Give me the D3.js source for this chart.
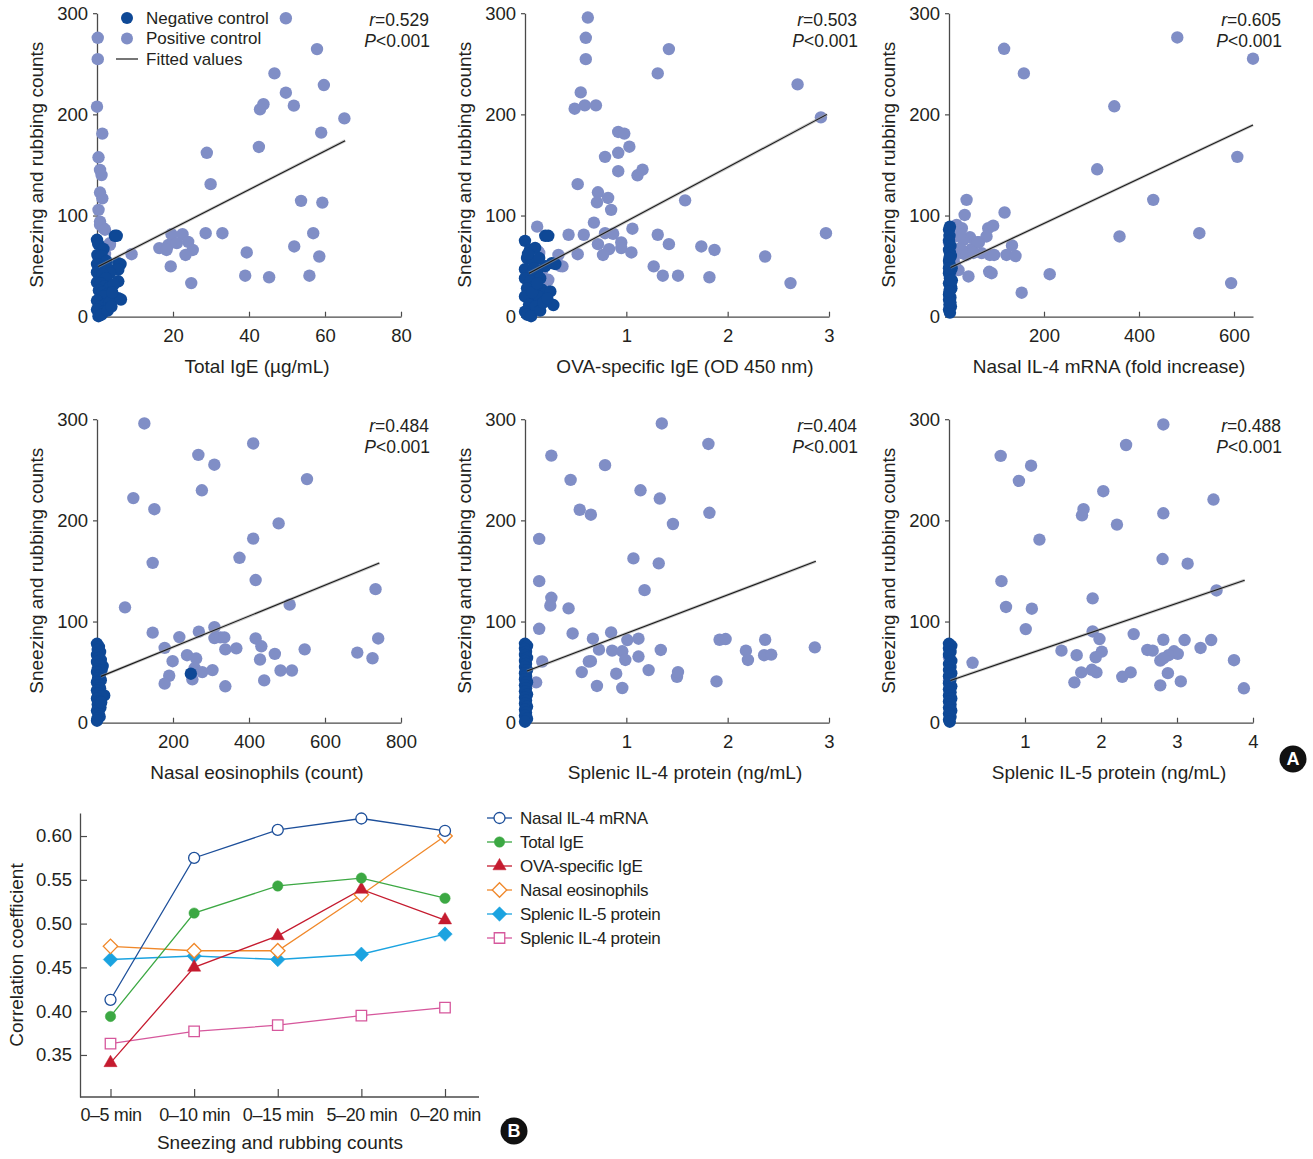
<!DOCTYPE html>
<html><head><meta charset="utf-8">
<script src="https://cdn.jsdelivr.net/npm/d3@7"></script>
<style>
body{margin:0;background:#fff}
svg{display:block}
text{font-family:"Liberation Sans",Arial,Helvetica,sans-serif;fill:#231f20}
</style></head>
<body><svg id="c" width="1313" height="1159"></svg>
<script>
// ---------------- DATA ----------------
const countTicks = [0, 100, 200, 300];

const totalIgE_pos = [[49.7,295],[0.2,275.7],[0.2,254.6],[0,207.6],[1.4,181],[0.4,157.6],[0.8,145],[1.2,140],[0.8,122.7],[1.4,117],[0.4,105.6],[0.8,94],[1.7,87.5],[3.4,71],[9.1,61.8],[57.9,264.5],[46.7,240.5],[59.7,229],[49.7,221.4],[43.8,210],[42.9,205],[51.8,208.6],[65.1,196],[59,182],[42.6,167.8],[28.9,162],[29.9,131],[53.7,114.5],[59.3,112.8],[56.9,82.5],[28.6,82.5],[33,82.5],[19.6,81.6],[22.5,81.6],[24,74],[16.4,67.8],[18.8,71],[21,72.7],[18.3,66],[25.2,66],[23.3,61],[39.4,63.5],[51.9,69.4],[58.5,59.5],[19.4,49.7],[39,40.5],[45.3,39],[55.9,40.5],[24.8,33.2],[0.8,91],[2.1,86],[3.4,72.7],[2.1,62],[2.1,49.6],[2.6,40],[0.5,58]];
const totalIgE_neg = [[0,76],[0.3,72],[4.7,80],[5.2,80],[1.7,67],[0.1,61],[0.5,57],[1.2,60],[2.5,55],[5.6,53],[6.2,52],[0,52],[1.0,48],[2.0,50],[3.0,47],[5.6,46.5],[3.4,43],[0,44],[0.6,40],[1.5,42],[2.3,38],[5.6,35],[0,34],[1.0,33],[2.0,30],[3.4,29],[4.4,32],[0.5,26],[1.5,24],[2.6,22],[1.7,20],[5.6,18.4],[6.3,17],[0,16],[0.8,10],[2.2,12],[3.2,14],[0,7],[1.8,5],[0.4,0.5],[1.2,2],[2.8,6],[4.0,24],[3.8,10]];
const totalIgE_fit = [[0.35,49.6],[65.3,174]];

const ovaIgE_pos = [[0.62,295.7],[0.6,275.7],[0.6,254.6],[1.42,264.5],[1.31,240.5],[2.69,229.6],[2.92,197],[0.55,221.7],[0.49,205.6],[0.59,208.9],[0.7,208.9],[0.92,182.6],[0.98,181],[1.03,168],[0.92,162],[0.79,158],[0.92,143.8],[1.11,139.8],[1.16,145.4],[0.52,131],[0.72,123],[0.71,113],[0.82,117.4],[0.85,105.6],[1.58,115],[0.68,93],[1.06,87],[0.12,89],[0.43,81],[0.58,81],[0.79,82.5],[0.87,82],[1.31,81],[2.97,82.5],[0.72,71.7],[0.95,73.4],[0.95,67.8],[0.83,66.8],[0.77,61],[1.05,63.5],[0.52,61.8],[1.42,71.7],[1.74,69.4],[1.87,66],[2.37,59.5],[1.27,49.7],[1.36,40.5],[1.51,40.5],[1.82,39],[2.62,33.2],[0.33,61],[0.37,49.7],[0.23,36.5],[0.14,63],[0.17,45.7],[0.13,64.5],[0.11,51],[0.35,50]];
const ovaIgE_neg = [[0,75],[0.2,80],[0.23,80],[0.05,66],[0.1,68],[0.265,53],[0.3,52],[0.2,50],[0.02,58],[0.08,55],[0,47],[0.12,45],[0.06,42],[0,38],[0.05,35],[0.15,38],[0.1,30],[0.17,26.6],[0.2,23],[0.25,25],[0.02,28],[0.08,17],[0.13,20],[0,20],[0.04,12],[0.28,11.5],[0.1,10],[0,5],[0.02,2],[0.06,0.5],[0.15,6],[0.18,14],[0.22,18],[0.07,24],[0.12,33],[0.03,62],[0.14,58],[0.09,48]];
const ovaIgE_fit = [[0.04,43],[2.98,200]];

const il4mRNA_pos = [[116,264.8],[157.6,240.5],[480.6,276],[640,255],[348,208],[312,145.7],[607,158],[430,115.5],[359,79.3],[527,82.5],[594,33.2],[212,42],[153,23.7],[89.6,43],[117,103],[37,115.5],[33,100.6],[16,90.8],[27,87.5],[82.6,87.5],[93,90],[79,79.3],[44,78.6],[63,73.7],[132.6,70.4],[48,67],[68.8,62.8],[86,61],[95,61],[121,61],[140,60],[27,62.8],[30.5,76],[13,79.3],[9.7,56],[20,46],[41,39.8],[23.6,67.8],[0,73],[23,81],[59.5,73.7],[45.5,65.5],[12.6,51],[84.6,44.4],[10.5,61],[37,61],[51,63]];
const il4mRNA_neg = [[0,86],[2,89],[1,80],[0,75],[3,70],[0,66],[2,63],[4,60],[0,55],[5.6,48],[1,52],[0,43],[3,45],[2,38],[0,33],[4,30],[2,26.6],[0,22],[3,19],[0,16.8],[1,12],[4,10],[0,7],[2,4],[5,28],[1,58],[6,36],[0,48],[3,14],[1,25]];
const il4mRNA_fit = [[3.5,48.7],[640,189.5]];

const eos_pos = [[124.6,295.8],[411,276],[266.7,264.7],[308.8,255],[276,229.7],[552.6,240.8],[95.6,222],[151,211],[478,197],[411,182],[375,163],[146.5,158],[417.5,141],[733,132],[73.7,114],[507,116.7],[146.5,89],[268,90],[309,94.4],[216.7,84.6],[309,83.7],[324.6,84.3],[335,84.3],[417.5,83.3],[740,83.3],[178,74],[337.7,72.5],[366.7,73.5],[432.5,75.5],[546.5,72.5],[685,69.3],[237,66.7],[261,63.4],[468,68],[429,62.4],[725,63.7],[199,60.8],[257,54],[277,50],[304,52],[483,51.6],[513,51.6],[190,46.4],[178,38.6],[251,42.8],[440,41.8],[337.7,36]];
const eos_neg = [[0,78],[5,75],[2,72],[8,70],[0,67],[4,64],[10,62],[0,60],[15,56],[6,57],[2,53],[12,52],[0,50],[7,47],[3,44],[10,42],[0,40],[5,37],[8,34],[0,32],[19,27],[3,29],[12,26],[0,24],[6,21],[2,18],[9,15],[0,12],[4,9],[7,6],[1,4],[0,2],[11,20],[247,48.4]];
const eos_fit = [[10.5,45.8],[743,157.8]];

const il4prot_pos = [[1.35,295.8],[1.81,275.5],[0.26,264],[0.79,254.6],[0.45,240],[1.14,229.7],[1.33,221.6],[0.54,210.5],[0.65,205.6],[1.82,207.5],[1.46,196.4],[0.14,181.7],[1.07,162.4],[1.32,157.5],[0.14,139.9],[1.18,131],[0.26,123.5],[0.25,115.7],[0.43,113],[0.14,92.8],[0.47,88.2],[0.85,89.2],[0.67,83],[1.01,81.7],[1.12,83],[1.92,82],[1.98,82.7],[2.37,82],[0.73,72.2],[0.86,71.2],[0.96,70.6],[1.34,71.9],[2.18,71.2],[0.65,60.8],[0.99,62],[1.12,65.4],[0.17,60.5],[2.2,62],[2.36,66.7],[2.43,67.3],[2.86,74.5],[1.22,52],[0.56,50],[0.9,48.4],[1.5,45.4],[1.51,50],[0.11,39.9],[1.89,40.8],[0.71,36.3],[0.96,34.3],[0.63,60.5]];
const il4prot_neg = [[0,78],[0.02,76],[0,73],[0.01,70],[0,67],[0.02,64],[0,61],[0.01,58],[0,55],[0.02,52],[0,49],[0.01,46],[0,43],[0.02,40],[0,37],[0.01,34],[0,31],[0.02,28],[0,25],[0.01,22],[0,19],[0.02,16],[0,13],[0.01,10],[0,7],[0.02,4],[0,1]];
const il4prot_fit = [[0.02,51],[2.87,159.5]];

const il5prot_pos = [[2.82,294.8],[2.33,274.5],[0.68,263.7],[1.08,254],[0.92,239],[2.03,228.8],[3.48,220.6],[1.77,211],[1.75,205],[2.82,207],[2.21,195.8],[1.19,181],[2.81,161.8],[3.14,157.2],[0.69,139.9],[3.52,130.7],[1.89,122.9],[0.75,114.4],[1.09,112.7],[1.01,92.5],[2.43,87.6],[1.89,90.2],[1.98,82.7],[2.82,82],[3.1,81.7],[3.45,81.7],[3.31,73.9],[1.48,71.2],[2.61,71.9],[2.68,71.2],[2.96,70.6],[3.01,68],[2.01,70.3],[1.93,64.7],[1.68,66.7],[2.89,66.7],[2.78,61.4],[2.82,63.7],[3.75,61.8],[0.31,59.2],[1.88,52.3],[1.94,49.7],[1.74,49.7],[2.39,49.7],[2.28,45.4],[2.88,49],[1.65,39.9],[3.05,40.8],[2.78,36.9],[3.88,34],[0,64.7],[0,41.8]];
const il5prot_neg = [[0,78],[0.03,76],[0,73],[0.02,70],[0,67],[0.03,61],[0,58],[0.02,55],[0,52],[0.03,49],[0,46],[0.02,43],[0,39],[0.03,36],[0,33],[0.02,30],[0,27],[0.03,24],[0,21],[0.02,18],[0,15],[0.03,12],[0,9],[0.02,6],[0,3],[0.01,1]];
const il5prot_fit = [[0.02,41.8],[3.89,140.8]];

const rValues = ["0.529","0.503","0.605","0.484","0.404","0.488"];

// Panel B
const periods = ["0\u20135 min","0\u201310 min","0\u201315 min","5\u201320 min","0\u201320 min"];
const seriesNames = ["Nasal IL-4 mRNA","Total IgE","OVA-specific IgE","Nasal eosinophils","Splenic IL-5 protein","Splenic IL-4 protein"];
const nasalIL4_r  = [0.413,0.575,0.607,0.620,0.606];
const totalIgE_r  = [0.394,0.512,0.543,0.552,0.529];
const ovaIgE_r    = [0.341,0.450,0.486,0.539,0.504];
const nasalEos_r  = [0.474,0.469,0.469,0.533,0.600];
const il5_r       = [0.459,0.463,0.459,0.465,0.488];
const il4_r       = [0.363,0.377,0.384,0.395,0.404];
const corrTicks = [0.35,0.40,0.45,0.50,0.55,0.60];

// ---------------- DRAW ----------------
const svg = d3.select("#c");
const NEG = "#0e4896", POS = "#808ec6", AX = "#4a4a4a";

function scatter(p){
  const x = d3.scaleLinear().domain(p.xDomain).range([p.left, p.left + 304]);
  const y = d3.scaleLinear().domain([0,300]).range([p.bottom, p.bottom - 303.5]);
  const g = svg.append("g");
  // axes
  const xa = g.append("g").attr("transform",`translate(0,${p.bottom})`)
    .call(d3.axisBottom(x).tickValues(p.xTicks).tickFormat(d3.format("d")).tickSizeInner(-5).tickSizeOuter(0).tickPadding(12));
  const ya = g.append("g").attr("transform",`translate(${p.left},0)`)
    .call(d3.axisLeft(y).tickValues(countTicks).tickFormat(d3.format("d")).tickSizeInner(4).tickSizeOuter(0).tickPadding(5));
  [xa,ya].forEach(a=>{
    a.select(".domain").attr("stroke",AX).attr("stroke-width",1.3);
    a.selectAll(".tick line").attr("stroke",AX).attr("stroke-width",1.2);
    a.selectAll(".tick text").attr("font-size",18.5).attr("fill","#231f20").attr("font-family",null);
  });
  // points
  const pts = g.append("g");
  pts.selectAll("circle.pos").data(p.pos).join("circle").attr("class","pos")
    .attr("cx",d=>x(d[0])).attr("cy",d=>y(d[1])).attr("r",6.2).attr("fill",POS);
  pts.selectAll("circle.neg").data(p.neg).join("circle").attr("class","neg")
    .attr("cx",d=>x(d[0])).attr("cy",d=>y(d[1])).attr("r",6.2).attr("fill",NEG);
  // fit line
  const line = d3.line().x(d=>x(d[0])).y(d=>y(d[1]));
  g.append("path").attr("d",line(p.fit)).attr("stroke","#9a9a9a").attr("stroke-opacity",0.55).attr("stroke-width",3).attr("fill","none");
  g.append("path").attr("d",line(p.fit)).attr("stroke","#1a1a1a").attr("stroke-width",1.1).attr("fill","none");
  // titles
  g.append("text").attr("x",p.left+160).attr("y",p.bottom+56).attr("text-anchor","middle").attr("font-size",19).text(p.xTitle);
  g.append("text").attr("transform",`translate(${p.left-61},${p.bottom-152}) rotate(-90)`).attr("dy","0.35em")
    .attr("text-anchor","middle").attr("font-size",19).text("Sneezing and rubbing counts");
  // r / P
  const rt = g.append("text").attr("x",p.left+332).attr("y",p.bottom-291).attr("text-anchor","end").attr("font-size",17.5);
  rt.append("tspan").attr("font-style","italic").text("r");
  rt.append("tspan").text("=" + p.r);
  const pt = g.append("text").attr("x",p.left+333).attr("y",p.bottom-270).attr("text-anchor","end").attr("font-size",17.5);
  pt.append("tspan").attr("font-style","italic").text("P");
  pt.append("tspan").text("<0.001");
  return {g,x,y};
}

const rowTop = 316.7, rowBot = 722.7;
const colL = [97, 525, 949];

const p1 = scatter({left:colL[0],bottom:rowTop,xDomain:[0,80],xTicks:[20,40,60,80],pos:totalIgE_pos,neg:totalIgE_neg,fit:totalIgE_fit,xTitle:"Total IgE (\u00b5g/mL)",r:rValues[0]});
scatter({left:colL[1],bottom:rowTop,xDomain:[0,3],xTicks:[1,2,3],pos:ovaIgE_pos,neg:ovaIgE_neg,fit:ovaIgE_fit,xTitle:"OVA-specific IgE (OD 450 nm)",r:rValues[1]});
scatter({left:colL[2],bottom:rowTop,xDomain:[0,640],xTicks:[200,400,600],pos:il4mRNA_pos,neg:il4mRNA_neg,fit:il4mRNA_fit,xTitle:"Nasal IL-4 mRNA (fold increase)",r:rValues[2]});
scatter({left:colL[0],bottom:rowBot,xDomain:[0,800],xTicks:[200,400,600,800],pos:eos_pos,neg:eos_neg,fit:eos_fit,xTitle:"Nasal eosinophils (count)",r:rValues[3]});
scatter({left:colL[1],bottom:rowBot,xDomain:[0,3],xTicks:[1,2,3],pos:il4prot_pos,neg:il4prot_neg,fit:il4prot_fit,xTitle:"Splenic IL-4 protein (ng/mL)",r:rValues[4]});
scatter({left:colL[2],bottom:rowBot,xDomain:[0,4],xTicks:[1,2,3,4],pos:il5prot_pos,neg:il5prot_neg,fit:il5prot_fit,xTitle:"Splenic IL-5 protein (ng/mL)",r:rValues[5]});

// legend in panel 1
const lg = svg.append("g");
const legItems = [["Negative control",NEG,"dot"],["Positive control",POS,"dot"],["Fitted values","#1a1a1a","line"]];
legItems.forEach((it,i)=>{
  const yy = 18 + i*20.5;
  if(it[2]==="dot") lg.append("circle").attr("cx",127).attr("cy",yy).attr("r",6).attr("fill",it[1]);
  else lg.append("line").attr("x1",116).attr("x2",138).attr("y1",yy).attr("y2",yy).attr("stroke",it[1]).attr("stroke-width",1.2);
  lg.append("text").attr("x",146).attr("y",yy).attr("dy","0.35em").attr("font-size",17).text(it[0]);
});

// badges
function badge(cx,cy,t){
  svg.append("circle").attr("cx",cx).attr("cy",cy).attr("r",13.5).attr("fill","#111");
  svg.append("text").attr("x",cx).attr("y",cy).attr("dy","0.36em").attr("text-anchor","middle")
    .attr("font-size",18).attr("font-weight","bold").style("fill","#fff").text(t);
}
badge(1293,759,"A");
badge(514,1131,"B");

// ---------------- Panel B ----------------
const bx = d3.scalePoint().domain(periods).range([110.5,445]);
const by = d3.scaleLinear().domain([0.302,0.6263]).range([1097,813]);
const gb = svg.append("g");
gb.append("line").attr("x1",80).attr("x2",479).attr("y1",1097).attr("y2",1097).attr("stroke",AX).attr("stroke-width",1.3);
const bxa = gb.append("g").attr("transform","translate(0,1097)")
  .call(d3.axisBottom(bx).tickSizeInner(-8).tickSizeOuter(0).tickPadding(11));
const bya = gb.append("g").attr("transform","translate(80,0)")
  .call(d3.axisLeft(by).tickValues(corrTicks).tickFormat(d3.format(".2f")).tickSizeInner(-7).tickSizeOuter(0).tickPadding(8));
bxa.select(".domain").remove();
[bxa,bya].forEach(a=>{
  a.select(".domain").attr("stroke",AX).attr("stroke-width",1.3);
  a.selectAll(".tick line").attr("stroke",AX).attr("stroke-width",1.2);
  a.selectAll(".tick text").attr("font-size",18.5).attr("fill","#231f20").attr("font-family",null);
});
bxa.selectAll(".tick text").attr("font-size",18).attr("letter-spacing",-0.4);
gb.append("text").attr("x",280).attr("y",1149).attr("text-anchor","middle").attr("font-size",19).text("Sneezing and rubbing counts");
gb.append("text").attr("transform","translate(16,955) rotate(-90)").attr("dy","0.35em").attr("text-anchor","middle").attr("font-size",19).text("Correlation coefficient");

const seriesDefs = [
  {name:seriesNames[5], vals:il4_r,       color:"#d6579c", sym:d3.symbolSquare,   size:110, open:true,  rot:0},
  {name:seriesNames[4], vals:il5_r,       color:"#1ba3e0", sym:d3.symbolSquare,   size:105, open:false, rot:45},
  {name:seriesNames[3], vals:nasalEos_r,  color:"#f0882a", sym:d3.symbolSquare,   size:105, open:true,  rot:45},
  {name:seriesNames[2], vals:ovaIgE_r,    color:"#c51b2f", sym:d3.symbolTriangle, size:75,  open:false, rot:0},
  {name:seriesNames[1], vals:totalIgE_r,  color:"#3ca843", sym:d3.symbolCircle,   size:85,  open:false, rot:0},
  {name:seriesNames[0], vals:nasalIL4_r,  color:"#1d4f9a", sym:d3.symbolCircle,   size:95,  open:true,  rot:0}
];
const bline = d3.line().x((d,i)=>bx(periods[i])).y(d=>by(d));
seriesDefs.forEach(s=>{
  gb.append("path").attr("d",bline(s.vals)).attr("fill","none").attr("stroke",s.color).attr("stroke-width",1.3);
});
function marker(g,s,cx,cy){
  g.append("path").attr("d",d3.symbol().type(s.sym).size(s.size)())
    .attr("transform",`translate(${cx},${cy}) rotate(${s.rot})`)
    .attr("fill",s.open?"#fff":s.color).attr("stroke",s.color).attr("stroke-width",s.open?1.3:0.5);
}
seriesDefs.forEach(s=>{
  s.vals.forEach((v,i)=>marker(gb,s,bx(periods[i]),by(v)));
});
// legend B
const legOrder = [5,4,3,2,1,0];
legOrder.forEach((k,i)=>{
  const s = seriesDefs[k];
  const yy = 818 + i*24;
  gb.append("line").attr("x1",487).attr("x2",512).attr("y1",yy).attr("y2",yy).attr("stroke",s.color).attr("stroke-width",1.3);
  marker(gb,s,499.5,yy);
  gb.append("text").attr("x",520).attr("y",yy).attr("dy","0.35em").attr("font-size",17).attr("letter-spacing",-0.3).text(s.name);
});
</script></body></html>
